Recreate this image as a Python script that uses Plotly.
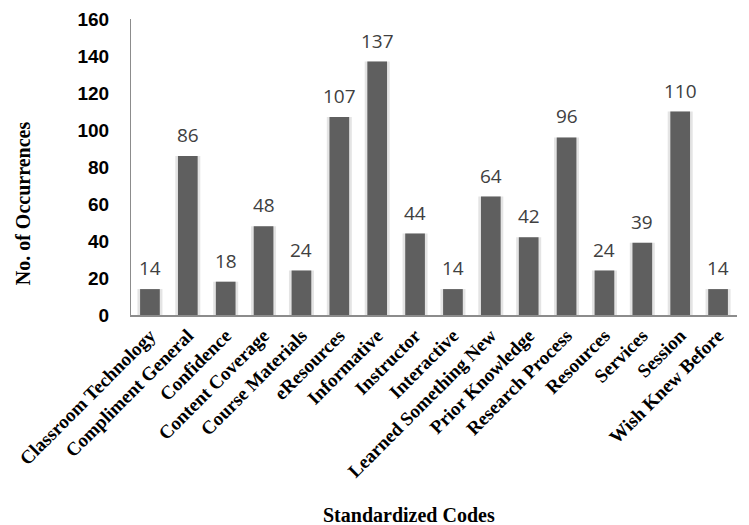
import plotly.graph_objects as go

codes = [
    "Classroom Technology", "Compliment General", "Confidence", "Content Coverage",
    "Course Materials", "eResources", "Informative", "Instructor", "Interactive",
    "Learned Something New", "Prior Knowledge", "Research Process", "Resources",
    "Services", "Session", "Wish Knew Before",
]
values = [14, 86, 18, 48, 24, 107, 137, 44, 14, 64, 42, 96, 24, 39, 110, 14]
y_ticks = [0, 20, 40, 60, 80, 100, 120, 140, 160]

fig = go.Figure()

# soft light halo behind each bar
fig.add_trace(go.Bar(
    x=codes, y=values, width=0.66,
    marker=dict(color="#e4e4e4", line=dict(width=0)),
    hoverinfo="skip", showlegend=False,
))
fig.add_trace(go.Bar(
    x=codes, y=values, width=0.52,
    marker=dict(color="#5f5f5f", line=dict(width=0)),
    showlegend=False,
))

for c, v in zip(codes, values):
    fig.add_annotation(
        x=c, y=v, text=str(v), showarrow=False, yanchor="bottom", yshift=6,
        font=dict(family="Open Sans, Liberation Sans, sans-serif", size=19, color="#404040"),
    )

# axis titles
fig.add_annotation(
    xref="paper", yref="paper", x=0.458, y=-0.676, text="<b>Standardized Codes</b>",
    showarrow=False, xanchor="center", yanchor="middle",
    font=dict(family="Liberation Serif, serif", size=20, color="black"),
)
fig.add_annotation(
    xref="paper", yref="paper", x=-0.178, y=0.378, text="<b>No. of Occurrences</b>",
    showarrow=False, textangle=-90, xanchor="center", yanchor="middle",
    font=dict(family="Liberation Serif, serif", size=20, color="black"),
)

fig.update_layout(
    width=749, height=525,
    margin=dict(l=131, r=12, t=19, b=210),
    plot_bgcolor="white", paper_bgcolor="white",
    barmode="overlay",
    xaxis=dict(
        tickangle=-45,
        tickfont=dict(family="Liberation Serif, Times New Roman, serif", size=19,
                      color="black", weight="bold"),
        showline=True, linecolor="#8c8c8c", linewidth=2,
        ticks="", showgrid=False, automargin=False,
    ),
    yaxis=dict(
        range=[0, 160], tickvals=y_ticks,
        tickfont=dict(family="Liberation Sans, Arial, sans-serif", size=19,
                      color="black", weight="bold"),
        showline=True, linecolor="#8c8c8c", linewidth=1,
        ticks="", showgrid=False, zeroline=False, ticklabelstandoff=17,
        automargin=False,
    ),
)

fig.write_html("out.html")
